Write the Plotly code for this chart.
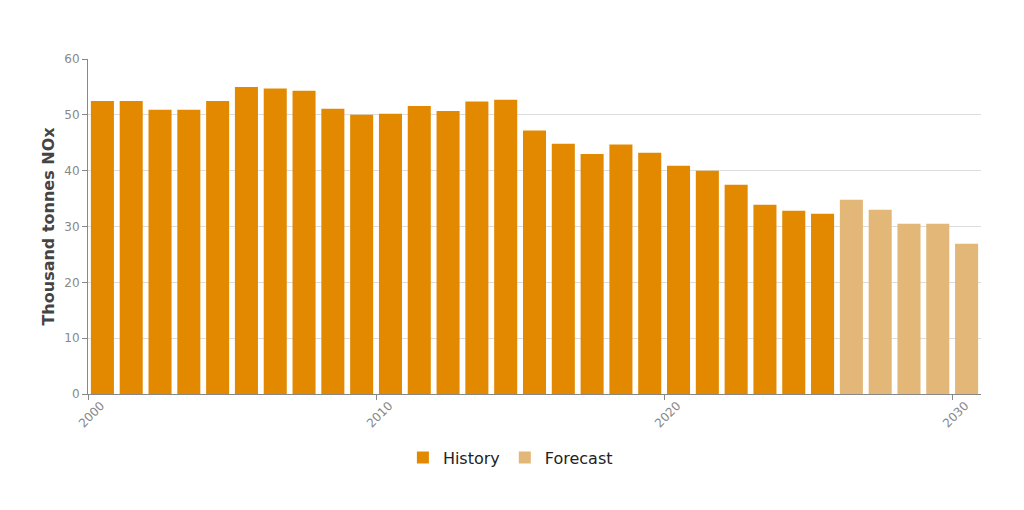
import plotly.graph_objects as go

hist_years = list(range(2000, 2026))
hist_values = [52.5, 52.5, 50.9, 50.9, 52.5, 55.0, 54.7, 54.3, 51.1, 50.0,
               50.2, 51.6, 50.7, 52.4, 52.7, 47.2, 44.8, 43.0, 44.7, 43.2,
               40.9, 40.0, 37.5, 33.9, 32.8, 32.3]
fc_years = list(range(2026, 2031))
fc_values = [34.8, 33.0, 30.5, 30.5, 26.9]
x_ticks = [2000, 2010, 2020, 2030]
y_ticks = [0, 10, 20, 30, 40, 50, 60]

fig = go.Figure()
fig.add_trace(go.Bar(x=hist_years, y=hist_values, name="History",
                     marker=dict(color="#E38900", line=dict(width=0)),
                     width=0.8, offset=0.1))
fig.add_trace(go.Bar(x=fc_years, y=fc_values, name="Forecast",
                     marker=dict(color="#E2B778", line=dict(width=0)),
                     width=0.8, offset=0.1))

fig.update_layout(
    width=1024, height=510,
    margin=dict(l=80, r=51, t=51, b=124),
    paper_bgcolor="white", plot_bgcolor="white",
    barmode="overlay",
    font=dict(family="DejaVu Sans", color="#888888", size=12),
    legend=dict(orientation="h", x=0.473, xanchor="center",
                y=-0.19, yanchor="middle",
                font=dict(size=16, color="#222222"), itemwidth=30,
                traceorder="normal"),
    xaxis=dict(range=[2000, 2031], tickvals=x_ticks, ticktext=[str(v) for v in x_ticks],
               tickangle=-45, showgrid=False, showline=True, linecolor="#888888",
               ticks="outside", ticklen=5, tickcolor="#888888", zeroline=False,
               ticklabelshift=13, ticklabelstandoff=-6,
               tickfont=dict(size=12, color="#888888")),
    yaxis=dict(range=[0, 60], tickvals=y_ticks, showgrid=True, gridcolor="#dddddd",
               showline=True, linecolor="#888888", ticks="outside", ticklen=5,
               tickcolor="#888888", zeroline=False,
               tickfont=dict(size=12, color="#888888"),
               title=dict(text="<b>Thousand tonnes NOx</b>",
                          font=dict(size=16, color="#444444"), standoff=5)),
)

fig.write_html("out.html")
